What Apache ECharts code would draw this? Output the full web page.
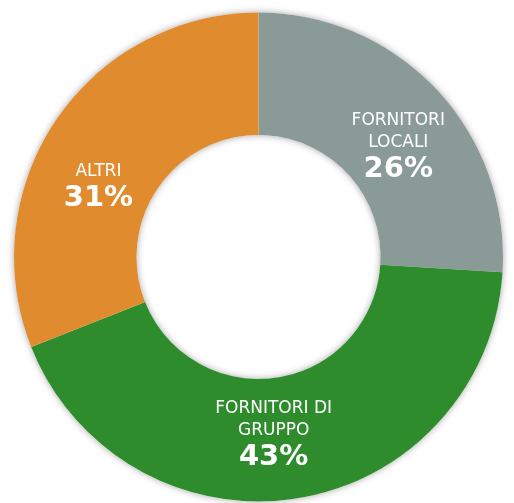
<!DOCTYPE html>
<html>
<head>
<meta charset="utf-8">
<script src="https://cdn.jsdelivr.net/npm/echarts@6/dist/echarts.min.js"></script>
<style>html,body{margin:0;padding:0;background:#fff;}#c{width:514px;height:503px;}</style>
</head>
<body>
<div id="c"></div>
<script>
const categories = ['FORNITORI\nLOCALI', 'FORNITORI DI\nGRUPPO', 'ALTRI'];
const values = [26, 43, 31];
const colors = ['#8A9A97', '#2E8C2C', '#E08B2D'];
const labelShift = [[4, 18], [-14, -5], [-6, 35]];

const chart = echarts.init(document.getElementById('c'));
chart.setOption({
  backgroundColor: '#ffffff',
  animation: false,
  series: [{
    type: 'pie',
    center: [258.5, 257],
    radius: [122, 244.5],
    silent: true,
    label: { show: false },
    labelLine: { show: false },
    data: [{ value: 1, itemStyle: { color: '#ffffff', shadowBlur: 7, shadowColor: 'rgba(0,0,0,0.35)' } }]
  }, {
    type: 'pie',
    center: [258.5, 257],
    radius: [122, 244.5],
    startAngle: 90,
    clockwise: true,
    silent: true,
    data: categories.map((n, i) => ({
      name: n, value: values[i],
      itemStyle: { color: colors[i] }
    })),
    label: {
      show: true,
      position: 'inside',
      formatter: p => '{n|' + p.name.split('\n').join('}\n{n|') + '}\n{v|' + p.value + '%}',
      rich: {
        n: { fontFamily: 'DejaVu Sans', fontSize: 17, color: '#ffffff', lineHeight: 22, align: 'center' },
        v: { fontFamily: 'DejaVu Sans', fontWeight: 'bold', fontSize: 29, color: '#ffffff', lineHeight: 32, align: 'center' }
      }
    },
    labelLine: { show: false },
    labelLayout: p => ({ dx: labelShift[p.dataIndex][0], dy: labelShift[p.dataIndex][1] })
  }]
});
</script>
</body>
</html>
